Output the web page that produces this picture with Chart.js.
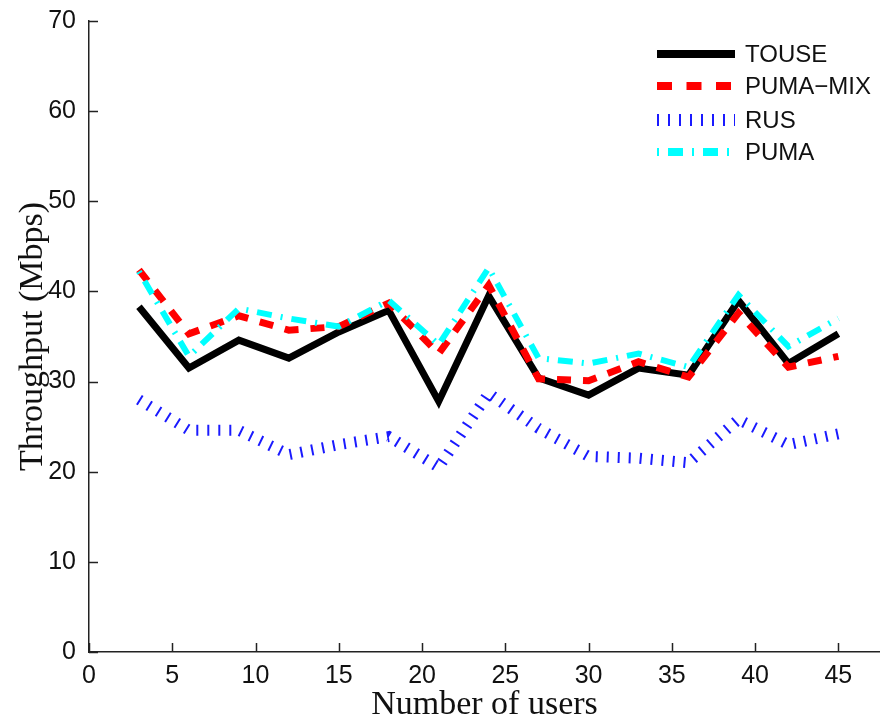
<!DOCTYPE html>
<html>
<head>
<meta charset="utf-8">
<script src="https://cdn.jsdelivr.net/npm/chart.js@4"></script>
<style>
  html, body { margin: 0; padding: 0; background: #fff; }
  canvas { display: block; }
</style>
</head>
<body>
<canvas id="chart" width="880" height="722"></canvas>
<script>
// values
const users = [3, 6, 9, 12, 15, 18, 21, 24, 27, 30, 33, 36, 39, 42, 45];
const touse = [38.3, 31.5, 34.6, 32.6, 35.5, 37.9, 27.8, 39.5, 30.4, 28.5, 31.5, 30.7, 39.0, 32.0, 35.3];
const pumaMix = [42.4, 35.3, 37.3, 35.7, 36.1, 38.7, 33.1, 40.7, 30.3, 30.1, 32.2, 30.5, 37.6, 31.6, 32.8];
const rus = [28.0, 24.6, 24.6, 21.9, 23.0, 23.9, 20.5, 28.7, 24.8, 21.7, 21.5, 21.0, 25.8, 23.0, 24.2];
const puma = [42.2, 32.8, 38.1, 37.0, 36.1, 39.0, 34.1, 42.6, 32.6, 32.0, 33.1, 31.6, 39.6, 33.9, 37.0];

const xTicks = [0, 5, 10, 15, 20, 25, 30, 35, 40, 45];
const yTicks = [0, 10, 20, 30, 40, 50, 60, 70];

const SANS = "'Liberation Sans', Arial, sans-serif";
const SERIF = "'Liberation Serif', 'Times New Roman', serif";

const toPoints = vals => vals.map((v, i) => ({ x: users[i], y: v }));

const series = [
  { label: 'TOUSE', data: touse, color: '#000000', width: 7, dash: [], order: 3 },
  { label: 'PUMA\u2212MIX', data: pumaMix, color: '#ff0000', width: 7, dash: [14, 12], order: 2 },
  { label: 'RUS', data: rus, color: '#1a1aff', width: 11, dash: [2, 9], order: 1 },
  { label: 'PUMA', data: puma, color: '#00ffff', width: 6, dash: [2, 9, 15, 9], order: 0 },
];

// matlab style ticks pointing into the plot
const innerTicks = {
  id: 'innerTicks',
  afterDraw(chart) {
    const { ctx, chartArea, scales } = chart;
    ctx.save();
    ctx.strokeStyle = '#222';
    ctx.lineWidth = 1.5;
    ctx.beginPath();
    xTicks.forEach(t => {
      const px = Math.round(scales.x.getPixelForValue(t)) + 0.5;
      ctx.moveTo(px, chartArea.bottom);
      ctx.lineTo(px, chartArea.bottom - 9);
    });
    yTicks.forEach(t => {
      const py = Math.round(scales.y.getPixelForValue(t)) + 0.5;
      ctx.moveTo(chartArea.left, py);
      ctx.lineTo(chartArea.left + 9, py);
    });
    ctx.stroke();
    ctx.restore();
  },
};

// legend box in the top right of the plot
const lineLegend = {
  id: 'lineLegend',
  afterDraw(chart) {
    const ctx = chart.ctx;
    const rows = [54, 86, 120, 152];
    ctx.save();
    series.forEach((s, i) => {
      const y = rows[i];
      ctx.strokeStyle = s.color;
      ctx.lineWidth = s.label === 'RUS' ? 12 : 8;
      ctx.lineCap = 'butt';
      ctx.setLineDash(s.label === 'PUMA\u2212MIX' ? [15, 14.5] : s.label === 'RUS' ? [2, 9] : s.dash);
      ctx.beginPath();
      ctx.moveTo(657, y);
      ctx.lineTo(735, y);
      ctx.stroke();
      ctx.setLineDash([]);
      ctx.fillStyle = '#111';
      ctx.font = '24px ' + SANS;
      ctx.textBaseline = 'middle';
      ctx.fillText(s.label, 745, y + 1);
    });
    ctx.restore();
  },
};

new Chart(document.getElementById('chart'), {
  type: 'line',
  data: {
    datasets: series.map(s => ({
      label: s.label,
      data: toPoints(s.data),
      borderColor: s.color,
      backgroundColor: s.color,
      borderWidth: s.width,
      borderDash: s.dash,
      borderCapStyle: 'butt',
      borderJoinStyle: 'miter',
      pointRadius: 0,
      tension: 0,
      fill: false,
      order: s.order,
    })),
  },
  options: {
    responsive: false,
    animation: false,
    events: [],
    layout: { padding: { top: 21, right: 0, left: 0, bottom: 0 } },
    plugins: { legend: { display: false }, tooltip: { enabled: false } },
    scales: {
      x: {
        type: 'linear',
        min: 0,
        max: 47.5,
        afterBuildTicks: axis => { axis.ticks = xTicks.map(v => ({ value: v })); },
        afterFit: axis => { axis.height = 70; },
        grid: { display: false },
        border: { display: true, color: '#222', width: 1.5 },
        ticks: { color: '#111', font: { family: SANS, size: 25 }, padding: 1, maxRotation: 0, autoSkip: false },
        title: { display: true, text: 'Number of users', color: '#111', font: { family: SERIF, size: 34 }, padding: { top: 0, bottom: -3 } },
      },
      y: {
        min: 0,
        max: 70,
        afterBuildTicks: axis => { axis.ticks = yTicks.map(v => ({ value: v })); },
        afterFit: axis => { axis.width = 89; },
        grid: { display: false },
        border: { display: true, color: '#222', width: 1.5 },
        ticks: { color: '#111', font: { family: SANS, size: 25 }, padding: 5 },
        title: { display: true, text: 'Throughput (Mbps)', color: '#111', font: { family: SERIF, size: 34 }, padding: { top: 13, bottom: 0 } },
      },
    },
  },
  plugins: [innerTicks, lineLegend],
});
</script>
</body>
</html>
